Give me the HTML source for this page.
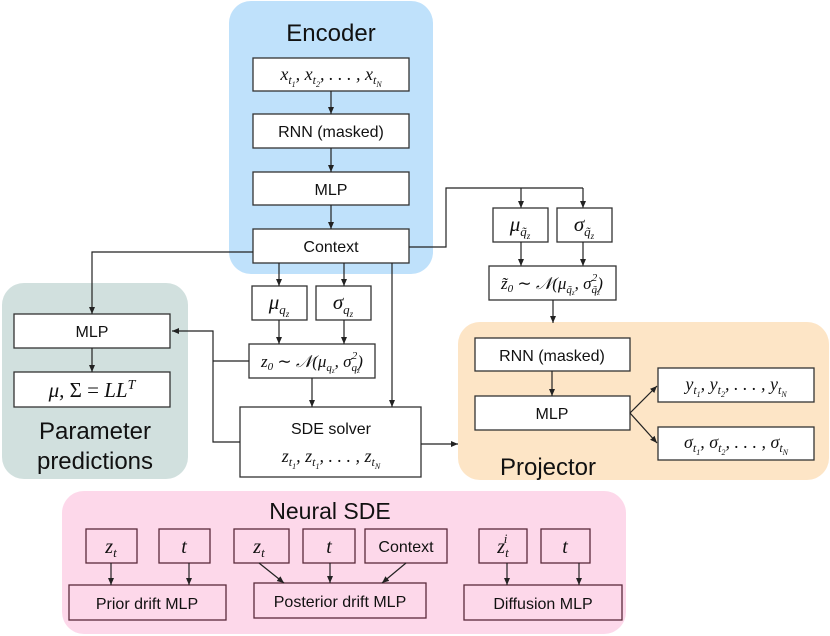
<!DOCTYPE html>
<html><head><meta charset="utf-8"><style>
body{margin:0;background:#fff}
svg{display:block}
.s{font-family:"Liberation Sans",sans-serif;fill:#111}
.m{font-family:"Liberation Serif",serif;font-style:italic;fill:#111}
.b{fill:#fff;stroke:#333;stroke-width:1.3}
.p{fill:none;stroke:#5a2a3a;stroke-width:1.3}
.l{stroke:#222;stroke-width:1.2;fill:none}
</style></head><body>
<svg width="830" height="636" viewBox="0 0 830 636" xmlns="http://www.w3.org/2000/svg">
<defs><marker id="a" markerWidth="8" markerHeight="8" refX="7" refY="4" orient="auto" markerUnits="userSpaceOnUse"><path d="M0,1 L7,4 L0,7 z" fill="#222"/></marker></defs>
<rect x="229" y="1" width="204" height="273" rx="22" fill="#bfe1fb"/>
<rect x="2" y="283" width="186" height="196" rx="22" fill="#d1e0de"/>
<rect x="458" y="322" width="371" height="158" rx="22" fill="#fde5c6"/>
<rect x="62" y="491" width="564" height="143" rx="22" fill="#fdd8ea"/>
<text class="s" x="331" y="41" font-size="24" text-anchor="middle">Encoder</text>
<text class="s" x="95" y="439" font-size="24" text-anchor="middle">Parameter</text>
<text class="s" x="95" y="469" font-size="24" text-anchor="middle">predictions</text>
<text class="s" x="548" y="475" font-size="24" text-anchor="middle">Projector</text>
<text class="s" x="330" y="519" font-size="23" text-anchor="middle">Neural SDE</text>
<!-- encoder boxes -->
<rect class="b" x="253" y="58" width="156" height="33"/>
<text class="m" x="331" y="80" font-size="18" text-anchor="middle">x<tspan font-size="12" dy="4">t</tspan><tspan font-size="8" dy="3">1</tspan><tspan dy="-7">, x</tspan><tspan font-size="12" dy="4">t</tspan><tspan font-size="8" dy="3">2</tspan><tspan dy="-7">, . . . , x</tspan><tspan font-size="12" dy="4">t</tspan><tspan font-size="8" dy="3">N</tspan></text>
<rect class="b" x="253" y="114" width="156" height="34"/>
<text class="s" x="331" y="137" font-size="16" text-anchor="middle">RNN (masked)</text>
<rect class="b" x="253" y="172" width="156" height="33"/>
<text class="s" x="331" y="195" font-size="16" text-anchor="middle">MLP</text>
<rect class="b" x="253" y="229" width="156" height="34"/>
<text class="s" x="331" y="252" font-size="16" text-anchor="middle">Context</text>
<line class="l" x1="331" y1="91" x2="331" y2="114" marker-end="url(#a)"/>
<line class="l" x1="331" y1="148" x2="331" y2="172" marker-end="url(#a)"/>
<line class="l" x1="331" y1="205" x2="331" y2="229" marker-end="url(#a)"/>
<!-- param -->
<rect class="b" x="14" y="314" width="156" height="34"/>
<text class="s" x="92" y="337" font-size="16" text-anchor="middle">MLP</text>
<rect class="b" x="14" y="372" width="156" height="35"/>
<text class="m" x="92" y="397" font-size="21" text-anchor="middle">μ, <tspan font-style="normal">Σ = </tspan>LL<tspan font-size="14" dy="-8">T</tspan></text>
<line class="l" x1="92" y1="348" x2="92" y2="372" marker-end="url(#a)"/>
<polyline class="l" points="253,252 92,252 92,314" marker-end="url(#a)"/>
<!-- mu q sigma -->
<rect class="b" x="252" y="286" width="55" height="34"/>
<text class="m" x="279" y="309" font-size="21" text-anchor="middle">μ<tspan font-size="13" dy="5">q</tspan><tspan font-size="9" dy="3">z</tspan></text>
<rect class="b" x="316" y="286" width="55" height="34"/>
<text class="m" x="343" y="309" font-size="21" text-anchor="middle">σ<tspan font-size="13" dy="5">q</tspan><tspan font-size="9" dy="3">z</tspan></text>
<line class="l" x1="279" y1="263" x2="279" y2="286" marker-end="url(#a)"/>
<line class="l" x1="344" y1="263" x2="344" y2="286" marker-end="url(#a)"/>
<rect class="b" x="249" y="344" width="126" height="34"/>
<text class="m" x="312" y="367" font-size="17" text-anchor="middle">z<tspan font-size="11" dy="3">0</tspan><tspan dy="-3" font-style="normal"> ∼ </tspan>𝒩(μ<tspan font-size="11" dy="4">q</tspan><tspan font-size="7" dy="2">z</tspan><tspan dy="-6">, σ</tspan><tspan font-size="11" dy="4">q</tspan><tspan font-size="7" dy="2">z</tspan><tspan font-size="11" dx="-8" dy="-14">2</tspan><tspan dy="8">)</tspan></text>
<line class="l" x1="279" y1="320" x2="279" y2="344" marker-end="url(#a)"/>
<line class="l" x1="344" y1="320" x2="344" y2="344" marker-end="url(#a)"/>
<rect class="b" x="240" y="407" width="181" height="70"/>
<text class="s" x="331" y="434" font-size="16" text-anchor="middle">SDE solver</text>
<text class="m" x="331" y="462" font-size="18" text-anchor="middle">z<tspan font-size="12" dy="4">t</tspan><tspan font-size="8" dy="3">1</tspan><tspan dy="-7">, z</tspan><tspan font-size="12" dy="4">t</tspan><tspan font-size="8" dy="3">1</tspan><tspan dy="-7">, . . . , z</tspan><tspan font-size="12" dy="4">t</tspan><tspan font-size="8" dy="3">N</tspan></text>
<line class="l" x1="312" y1="378" x2="312" y2="407" marker-end="url(#a)"/>
<line class="l" x1="392" y1="263" x2="392" y2="407" marker-end="url(#a)"/>
<polyline class="l" points="249,361 213,361"/>
<polyline class="l" points="240,442 213,442 213,331 172,331" marker-end="url(#a)"/>
<line class="l" x1="421" y1="444" x2="458" y2="444" marker-end="url(#a)"/>
<!-- tilde -->
<polyline class="l" points="409,247 446,247 446,188 583,188"/>
<line class="l" x1="521" y1="188" x2="521" y2="208" marker-end="url(#a)"/>
<line class="l" x1="583" y1="188" x2="583" y2="208" marker-end="url(#a)"/>
<rect class="b" x="493" y="208" width="55" height="34"/>
<text class="m" x="520" y="231" font-size="21" text-anchor="middle">μ<tspan font-size="13" dy="5">q̃</tspan><tspan font-size="9" dy="3">z</tspan></text>
<rect class="b" x="557" y="208" width="55" height="34"/>
<text class="m" x="584" y="231" font-size="21" text-anchor="middle">σ<tspan font-size="13" dy="5">q̃</tspan><tspan font-size="9" dy="3">z</tspan></text>
<line class="l" x1="521" y1="242" x2="521" y2="266" marker-end="url(#a)"/>
<line class="l" x1="583" y1="242" x2="583" y2="266" marker-end="url(#a)"/>
<rect class="b" x="489" y="266" width="127" height="34"/>
<text class="m" x="552" y="289" font-size="17" text-anchor="middle">z̃<tspan font-size="11" dy="3">0</tspan><tspan dy="-3" font-style="normal"> ∼ </tspan>𝒩(μ<tspan font-size="11" dy="4">q̃</tspan><tspan font-size="7" dy="2">z</tspan><tspan dy="-6">, σ</tspan><tspan font-size="11" dy="4">q̃</tspan><tspan font-size="7" dy="2">z</tspan><tspan font-size="11" dx="-8" dy="-14">2</tspan><tspan dy="8">)</tspan></text>
<line class="l" x1="553" y1="300" x2="553" y2="323" marker-end="url(#a)"/>
<!-- projector -->
<rect class="b" x="475" y="338" width="155" height="33"/>
<text class="s" x="552" y="361" font-size="16" text-anchor="middle">RNN (masked)</text>
<rect class="b" x="475" y="396" width="155" height="34"/>
<text class="s" x="552" y="419" font-size="16" text-anchor="middle">MLP</text>
<line class="l" x1="552" y1="371" x2="552" y2="396" marker-end="url(#a)"/>
<rect class="b" x="658" y="368" width="156" height="34"/>
<text class="m" x="736" y="390" font-size="18" text-anchor="middle">y<tspan font-size="12" dy="4">t</tspan><tspan font-size="8" dy="3">1</tspan><tspan dy="-7">, y</tspan><tspan font-size="12" dy="4">t</tspan><tspan font-size="8" dy="3">2</tspan><tspan dy="-7">, . . . , y</tspan><tspan font-size="12" dy="4">t</tspan><tspan font-size="8" dy="3">N</tspan></text>
<rect class="b" x="658" y="427" width="156" height="33"/>
<text class="m" x="736" y="448" font-size="18" text-anchor="middle">σ<tspan font-size="12" dy="4">t</tspan><tspan font-size="8" dy="3">1</tspan><tspan dy="-7">, σ</tspan><tspan font-size="12" dy="4">t</tspan><tspan font-size="8" dy="3">2</tspan><tspan dy="-7">, . . . , σ</tspan><tspan font-size="12" dy="4">t</tspan><tspan font-size="8" dy="3">N</tspan></text>
<line class="l" x1="630" y1="413" x2="657" y2="386" marker-end="url(#a)"/>
<line class="l" x1="630" y1="413" x2="657" y2="443" marker-end="url(#a)"/>
<!-- neural sde -->
<g>
<rect class="p" x="86" y="529" width="51" height="34"/>
<text class="m" x="111" y="553" font-size="20" text-anchor="middle">z<tspan font-size="13" dy="4">t</tspan></text>
<rect class="p" x="159" y="529" width="51" height="34"/>
<text class="m" x="184" y="553" font-size="20" text-anchor="middle">t</text>
<rect class="p" x="234" y="529" width="55" height="34"/>
<text class="m" x="259" y="553" font-size="20" text-anchor="middle">z<tspan font-size="13" dy="4">t</tspan></text>
<rect class="p" x="303" y="529" width="52" height="34"/>
<text class="m" x="329" y="553" font-size="20" text-anchor="middle">t</text>
<rect class="p" x="365" y="529" width="82" height="34"/>
<text class="s" x="406" y="552" font-size="16" text-anchor="middle">Context</text>
<rect class="p" x="479" y="529" width="48" height="34"/>
<text class="m" x="503" y="553" font-size="20" text-anchor="middle">z<tspan font-size="13" dy="4">t</tspan><tspan font-size="13" dx="-5" dy="-14">i</tspan></text>
<rect class="p" x="541" y="529" width="49" height="34"/>
<text class="m" x="565" y="553" font-size="20" text-anchor="middle">t</text>
<rect class="p" x="69" y="585" width="157" height="35"/>
<text class="s" x="147" y="609" font-size="16" text-anchor="middle">Prior drift MLP</text>
<rect class="p" x="254" y="583" width="172" height="35"/>
<text class="s" x="340" y="607" font-size="16" text-anchor="middle">Posterior drift MLP</text>
<rect class="p" x="464" y="585" width="158" height="35"/>
<text class="s" x="543" y="609" font-size="16" text-anchor="middle">Diffusion MLP</text>
<line class="l" x1="111" y1="563" x2="111" y2="585" marker-end="url(#a)"/>
<line class="l" x1="189" y1="563" x2="189" y2="585" marker-end="url(#a)"/>
<line class="l" x1="259" y1="563" x2="284" y2="583" marker-end="url(#a)"/>
<line class="l" x1="330" y1="563" x2="330" y2="583" marker-end="url(#a)"/>
<line class="l" x1="406" y1="563" x2="382" y2="583" marker-end="url(#a)"/>
<line class="l" x1="507" y1="563" x2="507" y2="585" marker-end="url(#a)"/>
<line class="l" x1="579" y1="563" x2="579" y2="585" marker-end="url(#a)"/>
</g>
</svg>
</body></html>
